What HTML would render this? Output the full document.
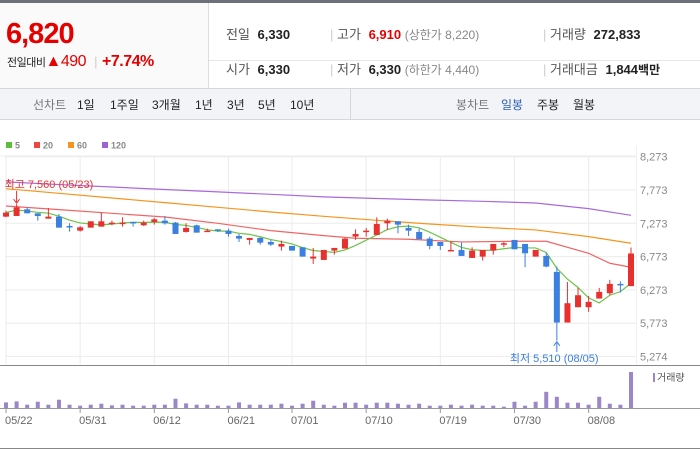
<!DOCTYPE html>
<html><head><meta charset="utf-8"><style>
body{margin:0;width:700px;height:450px;overflow:hidden;background:#fff;font-family:"Liberation Sans","Noto Sans CJK KR",sans-serif;}
.t{position:absolute;white-space:nowrap;}
</style></head><body>
<div style="position:absolute;left:0;top:0;width:700px;height:3px;background:#6c7078"></div>
<div style="position:absolute;left:0;top:3px;width:208px;height:85px;background:#fafafa;border-right:1px solid #ddd"></div>
<div class="t" style="left:6px;top:18px;font-size:29px;font-weight:bold;color:#e50000;letter-spacing:-1px">6,820</div>
<div class="t" style="left:7px;top:53px;font-size:11px;color:#222;letter-spacing:-0.5px">전일대비<span style="color:#e50000;font-size:16px">▲490</span><span style="color:#ccc;font-size:13px;margin:0 5px"> |</span><span style="color:#e50000;font-size:16px;font-weight:bold">+7.74%</span></div>
<div style="position:absolute;left:209px;top:60px;width:491px;height:1px;background:#e6e6e6"></div>
<div style="position:absolute;left:0;top:88px;width:700px;height:30px;background:#f3f4f7;border-top:1px solid #d5d7dc;border-bottom:1px solid #d5d7dc"></div>
<div style="position:absolute;left:350px;top:89px;width:1px;height:30px;background:#d5d7dc"></div>
<div style="font-size:13px;color:#222">
<div class="t" style="left:226px;top:24px"><span style="color:#555">전일</span> <b style="margin-left:4px">6,330</b></div>
<div class="t" style="left:330px;top:24px"><span style="color:#ccc">|</span> <span style="color:#555">고가</span> <b style="color:#e50000;margin-left:4px">6,910</b> <span style="color:#888;font-size:12px">(상한가 8,220)</span></div>
<div class="t" style="left:543px;top:24px"><span style="color:#ccc">|</span> <span style="color:#555">거래량</span> <b style="margin-left:4px">272,833</b></div>
<div class="t" style="left:226px;top:59px"><span style="color:#555">시가</span> <b style="margin-left:4px">6,330</b></div>
<div class="t" style="left:330px;top:59px"><span style="color:#ccc">|</span> <span style="color:#555">저가</span> <b style="margin-left:4px">6,330</b> <span style="color:#888;font-size:12px">(하한가 4,440)</span></div>
<div class="t" style="left:543px;top:59px"><span style="color:#ccc">|</span> <span style="color:#555">거래대금</span> <b style="margin-left:4px">1,844</b><b style="font-size:12px">백만</b></div>
</div>
<div style="font-size:12px;color:#222">
<div class="t" style="left:33px;top:96px;color:#777">선차트</div>
<div class="t" style="left:77px;top:96px">1일</div>
<div class="t" style="left:110px;top:96px">1주일</div>
<div class="t" style="left:152px;top:96px">3개월</div>
<div class="t" style="left:195px;top:96px">1년</div>
<div class="t" style="left:227px;top:96px">3년</div>
<div class="t" style="left:258px;top:96px">5년</div>
<div class="t" style="left:290px;top:96px">10년</div>
<div class="t" style="left:456px;top:96px;color:#777">봉차트</div>
<div class="t" style="left:501px;top:96px;color:#2d5fb6">일봉</div>
<div class="t" style="left:537px;top:96px">주봉</div>
<div class="t" style="left:573px;top:96px">월봉</div>
</div>
<svg id="ch" width="700" height="450" style="position:absolute;left:0;top:0" font-family="Liberation Sans, Noto Sans CJK KR, sans-serif"></svg>
<script>
const opens=[7373,7383,7483,7423,7343,7373,7233,7163,7208,7223,7263,7273,7293,7243,7293,7313,7283,7143,7243,7143,7183,7163,7083,7023,7053,6993,6923,6933,6913,6743,6723,6863,6893,7073,7143,7098,7273,7303,7203,7143,7043,6993,6863,6873,6753,6773,6863,6953,7023,6963,6773,6783,6543,5783,6013,6013,6143,6223,6363,6330];
const highs=[7463,7560,7513,7423,7503,7413,7273,7233,7303,7433,7313,7363,7293,7313,7353,7383,7293,7273,7253,7193,7183,7193,7113,7053,7063,7023,7013,6933,6913,6903,6873,6903,7053,7183,7203,7363,7343,7303,7253,7193,7073,6993,7003,6983,6913,6873,6963,6993,7023,6963,6873,6833,6623,6393,6303,6183,6303,6423,6403,6910];
const lows=[7363,7383,7423,7313,7343,7208,7148,7148,7208,7223,7243,7223,7223,7233,7253,7253,7113,7133,7133,7143,7143,7073,6993,6953,6953,6933,6863,6863,6773,6663,6723,6803,6893,7023,7073,7098,7173,7123,7083,7033,6883,6873,6863,6783,6753,6713,6803,6913,6883,6613,6773,6613,5510,5783,6013,5943,6143,6193,6233,6330];
const closes=[7433,7513,7423,7383,7373,7208,7213,7213,7303,7303,7283,7283,7273,7283,7333,7273,7113,7203,7133,7163,7163,7113,7043,7053,6983,6953,6963,6863,6773,6773,6873,6903,7043,7113,7163,7263,7313,7253,7163,7033,6933,6933,6873,6783,6863,6873,6963,6973,6883,6823,6873,6623,5783,6073,6193,6093,6243,6363,6343,6820];
const volumes=[17,20,10,19,10,25,10,7,10,13,8,10,7,7,10,10,28,14,10,10,7,7,17,10,10,10,13,7,13,22,10,7,16,16,10,16,16,13,10,13,7,7,10,7,10,7,7,4,19,7,19,49,34,16,16,10,34,13,10,109].map(v=>Math.round(v*2503));
const dateLabels=["05/22","05/31","06/12","06/21","07/01","07/10","07/19","07/30","08/08"];
const dateIdx=[0,7,14,21,27,34,41,48,55];
const yTicks=[8273,7773,7273,6773,6273,5773,5274];
const ma20Idx=[0,5,10,15,20,25,30,33,38,43,48,51,55,57,59];
const ma20Val=[7533,7478,7423,7368,7273,7163,7088,7048,7033,6993,7003,7003,6823,6673,6613];
const ma60Idx=[0,5,10,15,20,25,30,35,40,45,50,55,59];
const ma60Val=[7793,7723,7653,7583,7513,7443,7378,7318,7263,7213,7173,7073,6973];
const ma120Idx=[0,5,10,15,20,25,30,35,40,45,50,55,59];
const ma120Val=[7895,7855,7818,7780,7745,7708,7670,7645,7623,7603,7578,7493,7393];

const svg=document.getElementById('ch');const NS='http://www.w3.org/2000/svg';
function mk(t,a,p){const e=document.createElementNS(NS,t);for(const k in a)e.setAttribute(k,a[k]);(p||svg).appendChild(e);return e;}
const X0=6,DX=(631-6)/59;
const x=i=>X0+i*DX;
const y=v=>156.7+(8273-v)*(33.3/500);
const vmax=Math.max(...volumes);
const vy=v=>408-v/vmax*36;
const UP='#e8312f',DN='#3b7fe0';
// frames & grid
let g=mk('g',{});
mk('line',{x1:0,x2:700,y1:146.5-0,y2:146.5,stroke:'none'},g);
yTicks.forEach(v=>{const l=mk('line',{x1:5,x2:636,y1:y(v),y2:y(v),stroke:'#ececec'},g);
 const t=mk('text',{x:640,y:y(v)+4,'font-size':11,fill:'#888'},g);t.textContent=v.toLocaleString('en-US');
 });
dateIdx.forEach((d,k)=>{mk('line',{x1:x(d),x2:x(d),y1:156,y2:365,stroke:'#ececec'},g);
 mk('line',{x1:x(d),x2:x(d),y1:408,y2:413,stroke:'#999'},g);
 const t=mk('text',{x:x(d)-1,y:424,'font-size':11,fill:'#666'},g);t.textContent=dateLabels[k];
 });
mk('line',{x1:0,x2:700,y1:365.5,y2:365.5,stroke:'#888'},g);
mk('line',{x1:0,x2:700,y1:408.5,y2:408.5,stroke:'#999'},g);
mk('line',{x1:0,x2:700,y1:448.5,y2:448.5,stroke:'#888'},g);
mk('line',{x1:636.5,x2:636.5,y1:146,y2:365,stroke:'#f0f0f0'},g);
mk('line',{x1:0,x2:636,y1:156,y2:156,stroke:'#ececec'},g);
// legend
const legC=['#5cbf3a','#ee4444','#f7941d','#9f62d6'],legT=['5','20','60','120'];let lx=6;
legT.forEach((s,k)=>{const r=mk('rect',{x:lx,y:142,width:6,height:6,fill:legC[k]});
 const t=mk('text',{x:lx+9,y:148.5,'font-size':9,'font-weight':'bold',fill:'#888'});t.textContent=s;lx+=s.length*6+22;});
// MA lines
function line(idx,val,c,name){const p=mk('polyline',{points:idx.map((d,k)=>x(d)+','+y(val[k])).join(' '),fill:'none',stroke:c,'stroke-width':1.2});}
line(ma120Idx,ma120Val,'#a86bd9','ma120-line');
line(ma60Idx,ma60Val,'#f7941d','ma60-line');
line(ma20Idx,ma20Val,'#f26464','ma20-line');
const ma5=closes.map((c,i)=>{const s=closes.slice(Math.max(0,i-4),i+1);return s.reduce((a,b)=>a+b,0)/s.length;});
line(ma5.map((_,i)=>i),ma5,'#6cc24a','ma5-line');
// candles
closes.forEach((c,i)=>{const o=opens[i],col=c>=o?UP:DN;const cg=mk('g',{});
 
 mk('line',{x1:x(i),x2:x(i),y1:y(highs[i]),y2:y(lows[i]),stroke:col,'stroke-width':1},cg);
 const t=Math.min(y(o),y(c)),h=Math.max(1.5,Math.abs(y(o)-y(c)));
 mk('rect',{x:x(i)-3,y:t,width:6,height:h,fill:col},cg);});
// volume
volumes.forEach((v,i)=>{const r=mk('rect',{x:x(i)-2,y:vy(v),width:4,height:408-vy(v),fill:'#9b86c9'});
 });
mk('rect',{x:653,y:373,width:2,height:9,fill:'#9b86c9'});
const vl=mk('text',{x:657,y:381,'font-size':10,fill:'#555'});vl.textContent='거래량';
// annotations
const hi=highs.indexOf(Math.max(...highs)),lo=lows.indexOf(Math.min(...lows));
mk('line',{x1:x(hi),x2:x(hi),y1:191,y2:y(highs[hi])-2,stroke:UP});
mk('path',{d:`M${x(hi)-3} ${y(highs[hi])-5} L${x(hi)} ${y(highs[hi])-1} L${x(hi)+3} ${y(highs[hi])-5}`,fill:'none',stroke:UP});
const ht=mk('text',{x:x(hi)-12,y:188,'font-size':11,fill:UP});ht.textContent='최고 7,560 (05/23)';
mk('line',{x1:x(lo),x2:x(lo),y1:y(lows[lo])+2,y2:352,stroke:DN});
mk('path',{d:`M${x(lo)-3} ${y(lows[lo])+5} L${x(lo)} ${y(lows[lo])+1} L${x(lo)+3} ${y(lows[lo])+5}`,fill:'none',stroke:DN});
const lt=mk('text',{x:x(lo)-47,y:362,'font-size':11,fill:DN});lt.textContent='최저 5,510 (08/05)';
</script>
</body></html>
